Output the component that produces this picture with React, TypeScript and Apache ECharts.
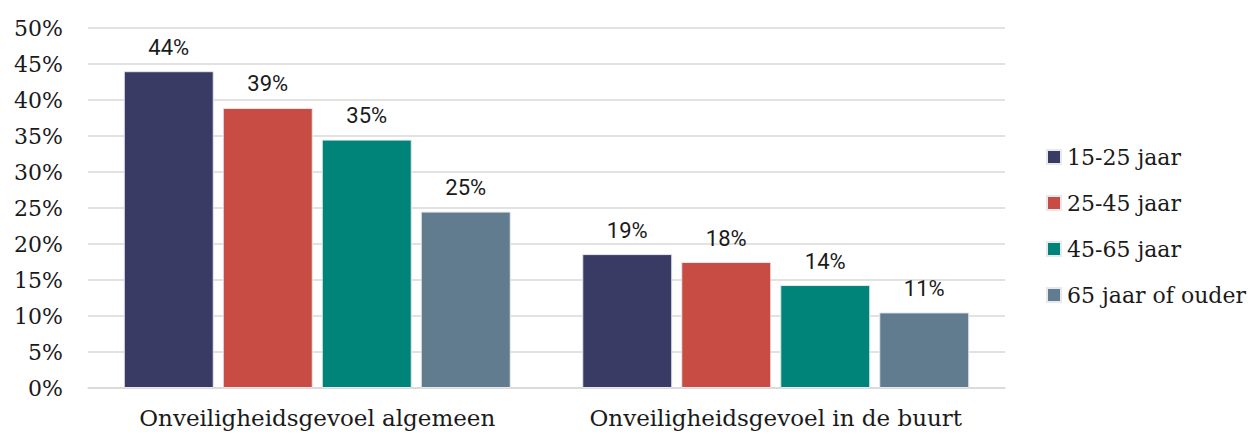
import React, { useEffect, useRef } from "react";
import * as echarts from "echarts";

const categories = ["Onveiligheidsgevoel algemeen", "Onveiligheidsgevoel in de buurt"];
const seriesNames = ["15-25 jaar", "25-45 jaar", "45-65 jaar", "65 jaar of ouder"];
const age15to25 = [44.0, 18.6];
const age25to45 = [38.9, 17.5];
const age45to65 = [34.5, 14.3];
const age65plus = [24.5, 10.5];
const colors = ["#393b65", "#c84c43", "#00847a", "#617b8f"];

const serif = "'DejaVu Serif', serif";
const sans = "Roboto, 'Noto Sans', sans-serif";

export default function App() {
  const ref = useRef<HTMLDivElement>(null);
  useEffect(() => {
    if (!ref.current) return;
    const chart = echarts.init(ref.current, undefined, { renderer: "svg" });
    const values = [age15to25, age25to45, age45to65, age65plus];
    chart.setOption({
      animation: false,
      grid: { left: 88, right: 250, top: 28, bottom: 45, containLabel: false },
      legend: {
        orient: "vertical",
        left: 1041,
        top: 141,
        icon: "rect",
        itemWidth: 14,
        itemHeight: 14,
        itemGap: 24,
        textStyle: { fontFamily: serif, fontSize: 22, color: "#1a1a1a", lineHeight: 22, padding: [0, 0, 0, 1] },
        data: seriesNames,
      },
      xAxis: {
        type: "category",
        data: categories,
        axisTick: { show: false },
        axisLine: { show: true, lineStyle: { color: "#d9d9d9", width: 1.5 } },
        axisLabel: { fontFamily: serif, fontSize: 23, color: "#1a1a1a", margin: 18, interval: 0 },
      },
      yAxis: {
        type: "value",
        min: 0,
        max: 50,
        interval: 5,
        axisLine: { show: false },
        axisTick: { show: false },
        splitLine: { lineStyle: { color: "#d9d9d9", width: 1.5 } },
        axisLabel: { fontFamily: serif, fontSize: 22, color: "#1a1a1a", margin: 25, formatter: "{value}%" },
      },
      series: seriesNames.map((name, i) => ({
        name,
        type: "bar",
        data: values[i],
        barWidth: 90,
        barGap: "10%",
        itemStyle: { color: colors[i], borderColor: "#e6e8ee", borderWidth: 1 },
        label: {
          show: true,
          position: "top",
          distance: 13,
          fontFamily: sans,
          fontSize: 22,
          color: "#1a1a1a",
          formatter: (p: any) => Math.round(p.value) + "%",
        },
      })),
    });
    return () => chart.dispose();
  }, []);
  return <div ref={ref} style={{ width: 1255, height: 433, position: "absolute", left: 0, top: 0 }} />;
}
